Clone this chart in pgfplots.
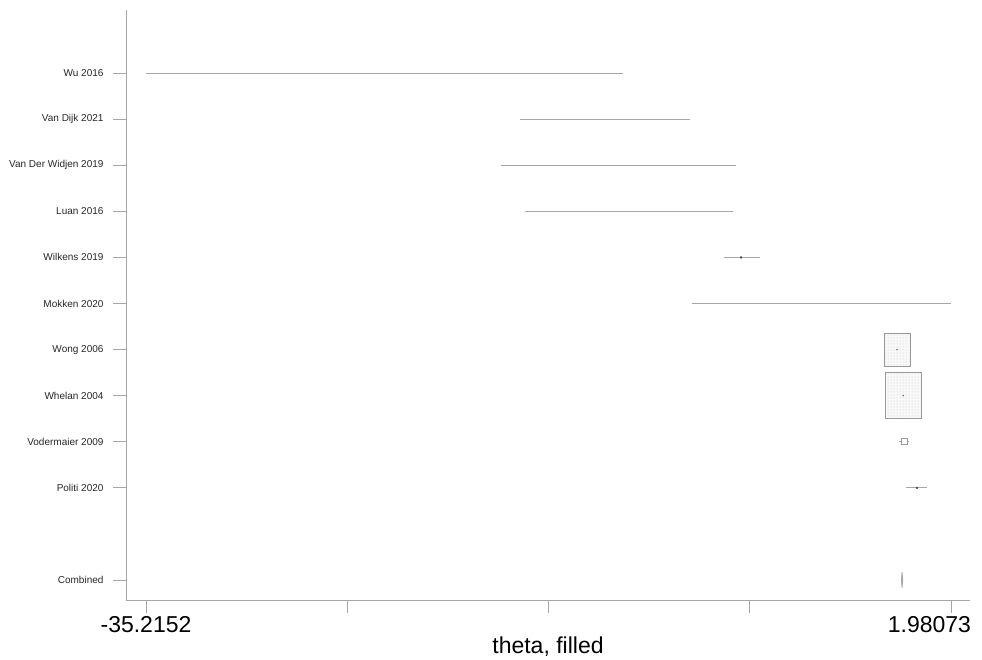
\documentclass[border=0pt]{standalone}
\usepackage{fontspec}
\setmainfont{Liberation Sans}
\usepackage{pgfplots}
\pgfplotsset{compat=1.18}
\usetikzlibrary{patterns}
\begin{document}
\begin{tikzpicture}[x=1pt,y=1pt]
\begin{axis}[
 scale only axis, width=844pt, height=590pt,
 xmin=-36.14, xmax=2.86, ymin=0.565, ymax=13.37,
 axis x line=bottom, axis y line=left,
 axis line style={draw=gray!70, line width=0.8pt, -},
 xtick={-35.2152,-25.91587,-16.61655,-7.31723,1.98073},
 xticklabels={-35.2152,,,,\makebox[0pt][r]{1.98073\hspace{-20pt}}},
 ytick={1,3,4,5,6,7,8,9,10,11,12},
 yticklabels={Combined,Politi  2020,Vodermaier 2009,Whelan 2004,Wong 2006,Mokken 2020,Wilkens 2019,Luan 2016,Van Der Widjen 2019,Van Dijk 2021,Wu 2016},
 tick align=outside, major tick length=13pt,
 tick style={draw=gray!70, line width=0.8pt},
 /pgf/number format/assume math mode=true,
 xticklabel style={font=\fontsize{23}{23}\selectfont},
 yticklabel style={font=\fontsize{10}{12}\selectfont, xshift=-6pt, text=black!85},
 xlabel={theta, filled}, xlabel style={font=\fontsize{23}{23}\selectfont, yshift=3pt},
 clip=false,
]
\coordinate (O) at (rel axis cs:0,0);
% confidence intervals
\addplot[gray!70, line width=0.8pt] coordinates {(-35.2152,12) (-13.17,12)};
\addplot[gray!70, line width=0.8pt] coordinates {(-17.93,11) (-10.08,11)};
\addplot[gray!70, line width=0.8pt] coordinates {(-18.81,10) (-7.95,10)};
\addplot[gray!70, line width=0.8pt] coordinates {(-17.70,9) (-8.09,9)};
\addplot[gray!70, line width=0.8pt] coordinates {(-8.51,8) (-6.84,8)};
\addplot[gray!70, line width=0.8pt] coordinates {(-9.98,7) (1.98073,7)};
\addplot[gray!70, line width=0.8pt] coordinates {(-0.42,4) (0.04,4)};
\addplot[gray!70, line width=0.8pt] coordinates {(-0.095,3) (0.876,3)};
% weight boxes
\addplot[draw=gray!80, line width=0.9pt, fill=gray!5, postaction={pattern=dots, pattern color=gray!45}] coordinates {(-1.11,5.63) (0.09,5.63) (0.09,6.35) (-1.11,6.35)} -- cycle;
\addplot[draw=gray!80, line width=1pt, fill=gray!5, postaction={pattern=dots, pattern color=gray!45}] coordinates {(-1.06,4.5) (0.60,4.5) (0.60,5.5) (-1.06,5.5)} -- cycle;
\addplot[draw=gray!80, line width=0.6pt, fill=white] coordinates {(-0.32,3.935) (-0.04,3.935) (-0.04,4.065) (-0.32,4.065)} -- cycle;
% point estimates
\addplot[only marks, mark=*, mark size=1pt, black!70] coordinates {(-7.72,8) (0.41,3)};
\addplot[only marks, mark=*, mark size=0.5pt, black!60] coordinates {(-0.51,6) (-0.23,5)};
% combined diamond
\addplot[draw=gray!70, line width=0.8pt, fill=gray!40] coordinates {(-0.31,1) (-0.28,1.17) (-0.25,1) (-0.28,0.83)} -- cycle;
\end{axis}
\pgfresetboundingbox
\path (O) ++(-126,-59) rectangle ++(982,659);
\end{tikzpicture}
\end{document}
